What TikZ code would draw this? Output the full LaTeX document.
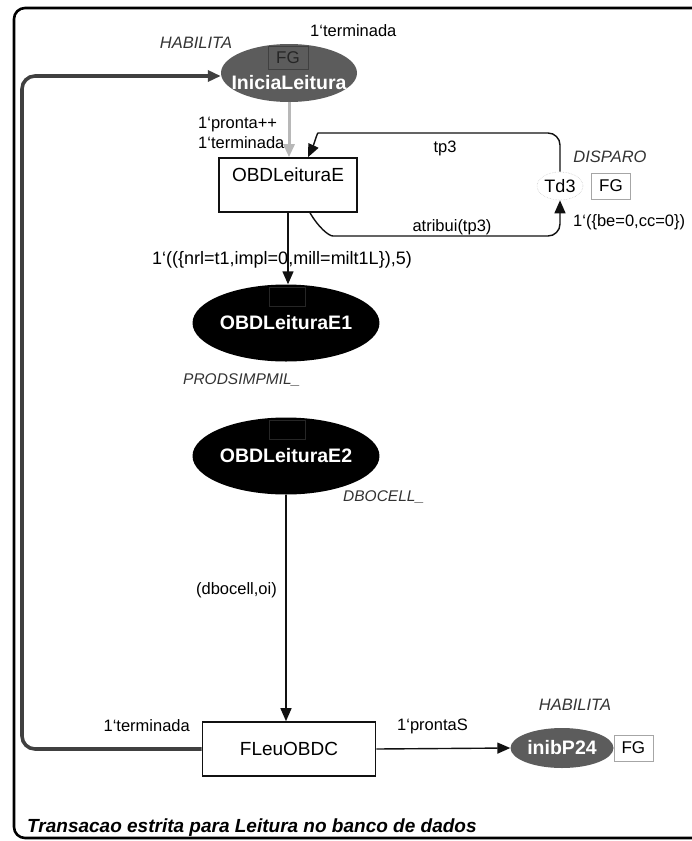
\documentclass[tikz,border=0pt]{standalone}
\usepackage{fontspec}
\setmainfont{Liberation Sans}
\usetikzlibrary{arrows.meta,calc,positioning,shapes.geometric}
\definecolor{ink}{HTML}{111111}
\definecolor{placegrey}{HTML}{5C5C5C}
\definecolor{softgrey}{HTML}{B8B8B8}
\definecolor{tagink}{HTML}{333333}

\begin{document}
\begin{tikzpicture}[x=1pt,y=-1pt,>={Triangle[length=13pt,width=11pt]},
  lbl/.style={font=\fontsize{16.5}{19}\selectfont,inner sep=1pt},
  tag/.style={font=\fontsize{16.5}{19}\selectfont\itshape,text=tagink,inner sep=1pt},
  smalltag/.style={tag,font=\fontsize{15.5}{18}\selectfont\itshape},
  trans/.style={draw=ink,line width=1.6pt,fill=white,inner sep=0pt,font=\fontsize{19}{22}\selectfont},
  place/.style={ellipse,inner sep=0pt,text=white,font=\fontsize{19.5}{22}\selectfont\bfseries},
  fgbox/.style={draw=gray!70,fill=white,minimum width=39pt,minimum height=26pt,inner sep=0pt,font=\fontsize{17}{19}\selectfont},
  hiddenfg/.style={draw=gray!30!black,line width=0.6pt,minimum width=36pt,minimum height=19pt},
  arc/.style={->,line width=1.4pt,ink}]
\useasboundingbox (0,0) rectangle (692,841);
% frame of the page
\draw[line width=2.6pt,rounded corners=11pt] (692,8) -- (14,8) -- (14,838) -- (692,838);

% places
\node[place,fill=placegrey,minimum width=136pt,minimum height=58pt] (ini) at (289,73) {};
\node[draw=black!75,line width=0.8pt,minimum width=40pt,minimum height=23pt,inner sep=0pt,text=black!85,font=\fontsize{17}{19}\selectfont] (inifg) at (288,58) {FG};
\node[text=white,font=\fontsize{19.5}{22}\selectfont\bfseries,inner sep=0pt] (initxt) at (289,83) {IniciaLeitura};
\node[tag] (inihab) at (196,43) {HABILITA};
\node[lbl,anchor=west] (initerm) at (309,31) {1`terminada};

\node[place,fill=black,minimum width=152pt,minimum height=77pt] (obde1) at (286,323) {OBDLeituraE1};
\node[hiddenfg] (obde1fg) at (287,297) {};
\node[smalltag,anchor=west] (obde1tag) at (182,380) {PRODSIMPMIL\_};

\node[place,fill=black,minimum width=152pt,minimum height=77pt] (obde2) at (286,456) {OBDLeituraE2};
\node[hiddenfg] (obde2fg) at (287,430) {};
\node[smalltag,anchor=west] (obde2tag) at (342,497) {DBOCELL\_};

\node[place,fill=placegrey,minimum width=103pt,minimum height=40pt] (inib) at (562,748) {inibP24};
\node[fgbox,right=0pt of inib] (inibfg) {FG};
\node[tag] (inibhab) at (575,705) {HABILITA};

% transitions
\node[trans,minimum width=138pt,minimum height=54pt,text depth=20pt] (obde) at (288,185) {OBDLeituraE};
\node[ellipse,draw=gray!40,line width=0.6pt,densely dotted,minimum width=46pt,minimum height=28pt,inner sep=0pt,font=\fontsize{18}{20}\selectfont] (td3) at (560,186) {Td3};
\node[fgbox,right=8pt of td3] (td3fg) {FG};
\node[tag] (td3tag) at (610,157) {DISPARO};
\node[trans,minimum width=173pt,minimum height=54pt] (fleu) at (289,749) {FLeuOBDC};

% arcs
\coordinate (loopturn) at (22,76);
\coordinate (tptop) at (330,133);
\coordinate (atbot) at (345,236);
\draw[->,line width=3.6pt,black!75,rounded corners=13pt] (fleu.west) -| (loopturn) -- (loopturn -| ini.west);
\draw[->,line width=3pt,softgrey] (ini.south) -- (ini.south |- obde.north);
\draw[arc,rounded corners=12pt] (td3.north) |- (tptop) to[out=180,in=65] ($(obde.north)+(20,0)$);
\draw[arc,rounded corners=12pt] ($(obde.south)+(22,0)$) to[out=-60,in=180] (atbot) -| (td3.south);
\draw[arc] (obde.south) -- (obde.south |- obde1.north);
\draw[arc] (obde2.south) -- (obde2.south |- fleu.north);
\draw[arc] (fleu.east) -- (inib.west);

% inscriptions
\node[lbl,anchor=west] (pronta) at (197,125) {1`pronta++};
\node[lbl,anchor=west] (termE) at (197,143) {1`terminada};
\node[lbl] (tp) at (445,148) {tp3};
\node[lbl] (atrib) at (452,227) {atribui(tp3)};
\node[lbl,anchor=west] (bece) at (572,222) {1`(\{be=0,cc=0\})};
\node[font=\fontsize{18}{20}\selectfont,inner sep=0pt,anchor=east] (nrl) at (412,260) {1`((\{nrl=t1,impl=0,mill=milt1L\}),5)};
\node[lbl,anchor=east] (dbo) at (278,590) {(dbocell,oi)};
\node[lbl,anchor=east] (fterm) at (191,726) {1`terminada};
\node[lbl,anchor=west] (fpronta) at (396,726) {1`prontaS};

\node[anchor=west,inner sep=0pt,font=\fontsize{19}{22}\selectfont\bfseries\itshape] (title) at (27,828) {Transacao estrita para Leitura no banco de dados};
\end{tikzpicture}
\end{document}
